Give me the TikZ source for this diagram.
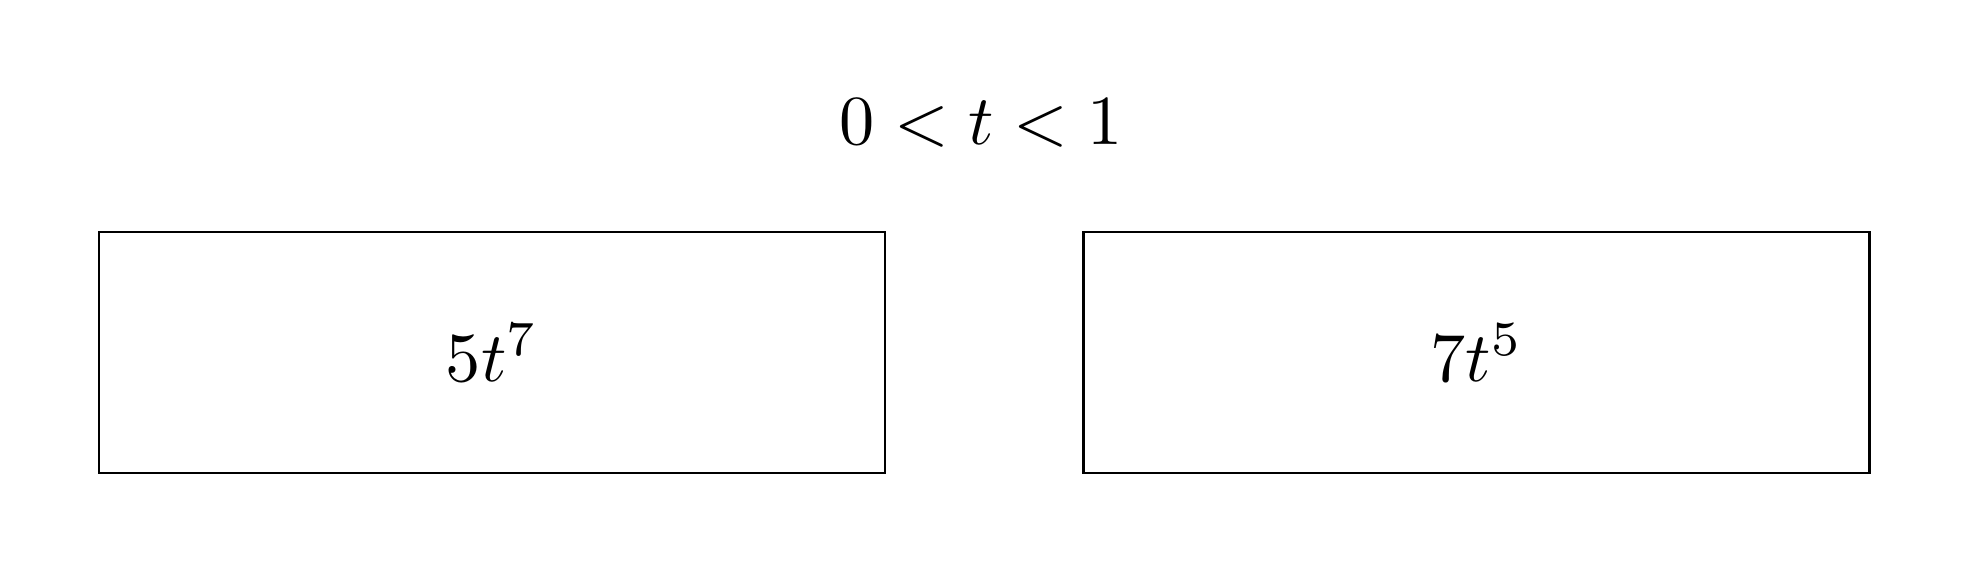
\documentclass[tikz,border=0pt]{standalone}
\usepackage{amsmath}

\newcommand{\bigterm}[1]{\scalebox{2}{$#1$}}

\begin{document}
\begin{tikzpicture}[
  termbox/.style={draw, line width=0.7pt, minimum width=7.86cm, minimum height=2.41cm, inner sep=0pt}
]

\useasboundingbox (0,0) rectangle (19.69,5.74);

% Range of t
\node[anchor=base] (range) at (9.81,4.29) {\bigterm{0 < t < 1}};

% Terms
\node[termbox] (left) at (4.92,2.215) {\bigterm{5t^7}};
\node[termbox] (right) at (14.765,2.215) {\bigterm{7t^5}};

\end{tikzpicture}
\end{document}
